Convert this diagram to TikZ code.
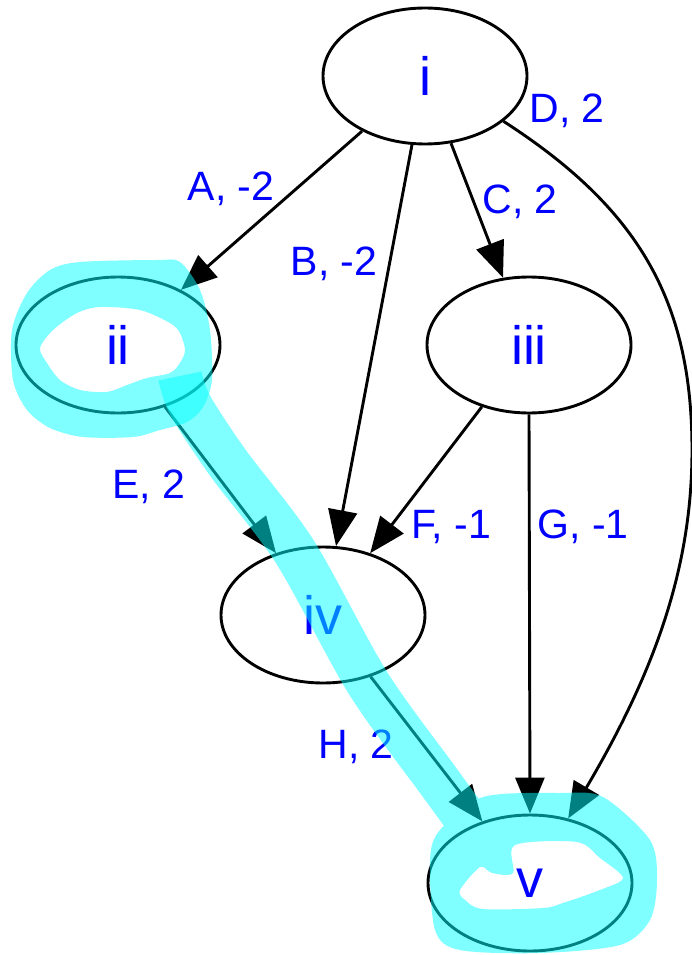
\documentclass[tikz,border=0pt]{standalone}
\usepackage{fontspec}
\setmainfont{Liberation Sans}
\usetikzlibrary{shapes.geometric,arrows.meta}
\definecolor{hlcyan}{RGB}{0,255,255}
\definecolor{lblue}{RGB}{0,0,255}
\begin{document}
\begin{tikzpicture}[x=1pt,y=-1pt,
  gnode/.style={draw=black, line width=2.9pt, ellipse, minimum width=204pt, minimum height=136pt, inner sep=0pt, text=lblue, font=\fontsize{54}{60}\selectfont},
  elabel/.style={text=lblue, font=\fontsize{41}{48}\selectfont, anchor=base, inner sep=0pt},
  edge/.style={line width=2.9pt, -{Triangle[length=36pt,width=29pt]}},
  hlfill/.style={fill=hlcyan, even odd rule},
  hlstroke/.style={draw=hlcyan, line width=44pt, line join=round, line cap=butt}
]
\useasboundingbox (0,0) rectangle (692,955);

% nodes
\node[gnode] (i)   at (425,76)  {i};
\node[gnode] (ii)  at (118,345) {ii};
\node[gnode] (iii) at (529,345) {iii};
\node[gnode] (iv)  at (323,615) {iv};
\node[gnode] (v)   at (530,883) {v};

% edges
\draw[edge] (i) -- (ii);
\draw[edge] (i) -- (iv);
\draw[edge] (i) -- (iii);
\coordinate (dmid) at (692,450);
\draw[edge] (i.-30) .. controls (638,208) and (692,300) .. (dmid) .. controls (692,560) and (660,663) .. (v);
\draw[edge] (ii) -- (iv);
\draw[edge] (iii) -- (iv);
\draw[edge] (iii.south) -- (v.north);
\draw[edge] (iv) -- (v);

% edge labels
\node[elabel] (lA) at (231,200) {A, -2};
\node[elabel] (lB) at (334,275) {B, -2};
\node[elabel] (lC) at (520,213) {C, 2};
\node[elabel] (lD) at (567,123) {D, 2};
\node[elabel] (lE) at (149,498) {E, 2};
\node[elabel] (lF) at (451,538) {F, -1};
\node[elabel] (lG) at (583,538) {G, -1};
\node[elabel] (lH) at (356,758) {H, 2};

% highlight around ii
\begin{scope}[transparency group, opacity=0.5]
\fill[hlfill]
  plot[smooth cycle] coordinates {(12,330) (27,293) (50,270) (80,262) (157,260) (180,262) (200,290) (210,330) (212,380) (203,407) (187,422) (160,430) (133,437) (83,437) (50,428) (27,410) (13,380)}
  plot[smooth cycle] coordinates {(40,348) (53,330) (77,313) (100,307) (140,310) (170,323) (180,333) (185,350) (180,363) (170,373) (147,378) (127,385) (107,392) (80,390) (60,380) (47,363)};
\end{scope}

% highlight path ii -> iv -> v and around v
\begin{scope}[transparency group, opacity=0.5]
\draw[hlstroke] plot[smooth] coordinates {(180,376) (190,405) (228,463) (295,552) (368,683) (440,783) (478,835)};
\fill[hlfill]
  plot[smooth cycle] coordinates {(430,860) (440,830) (483,797) (560,793) (603,797) (650,840) (657,880) (650,920) (620,945) (540,953) (460,950) (435,930)}
  plot[smooth cycle] coordinates {(460,890) (480,867) (492,873) (513,873) (515,845) (577,842) (600,858) (623,878) (600,890) (563,903) (543,908) (483,909) (465,900)};
\end{scope}
\end{tikzpicture}
\end{document}
